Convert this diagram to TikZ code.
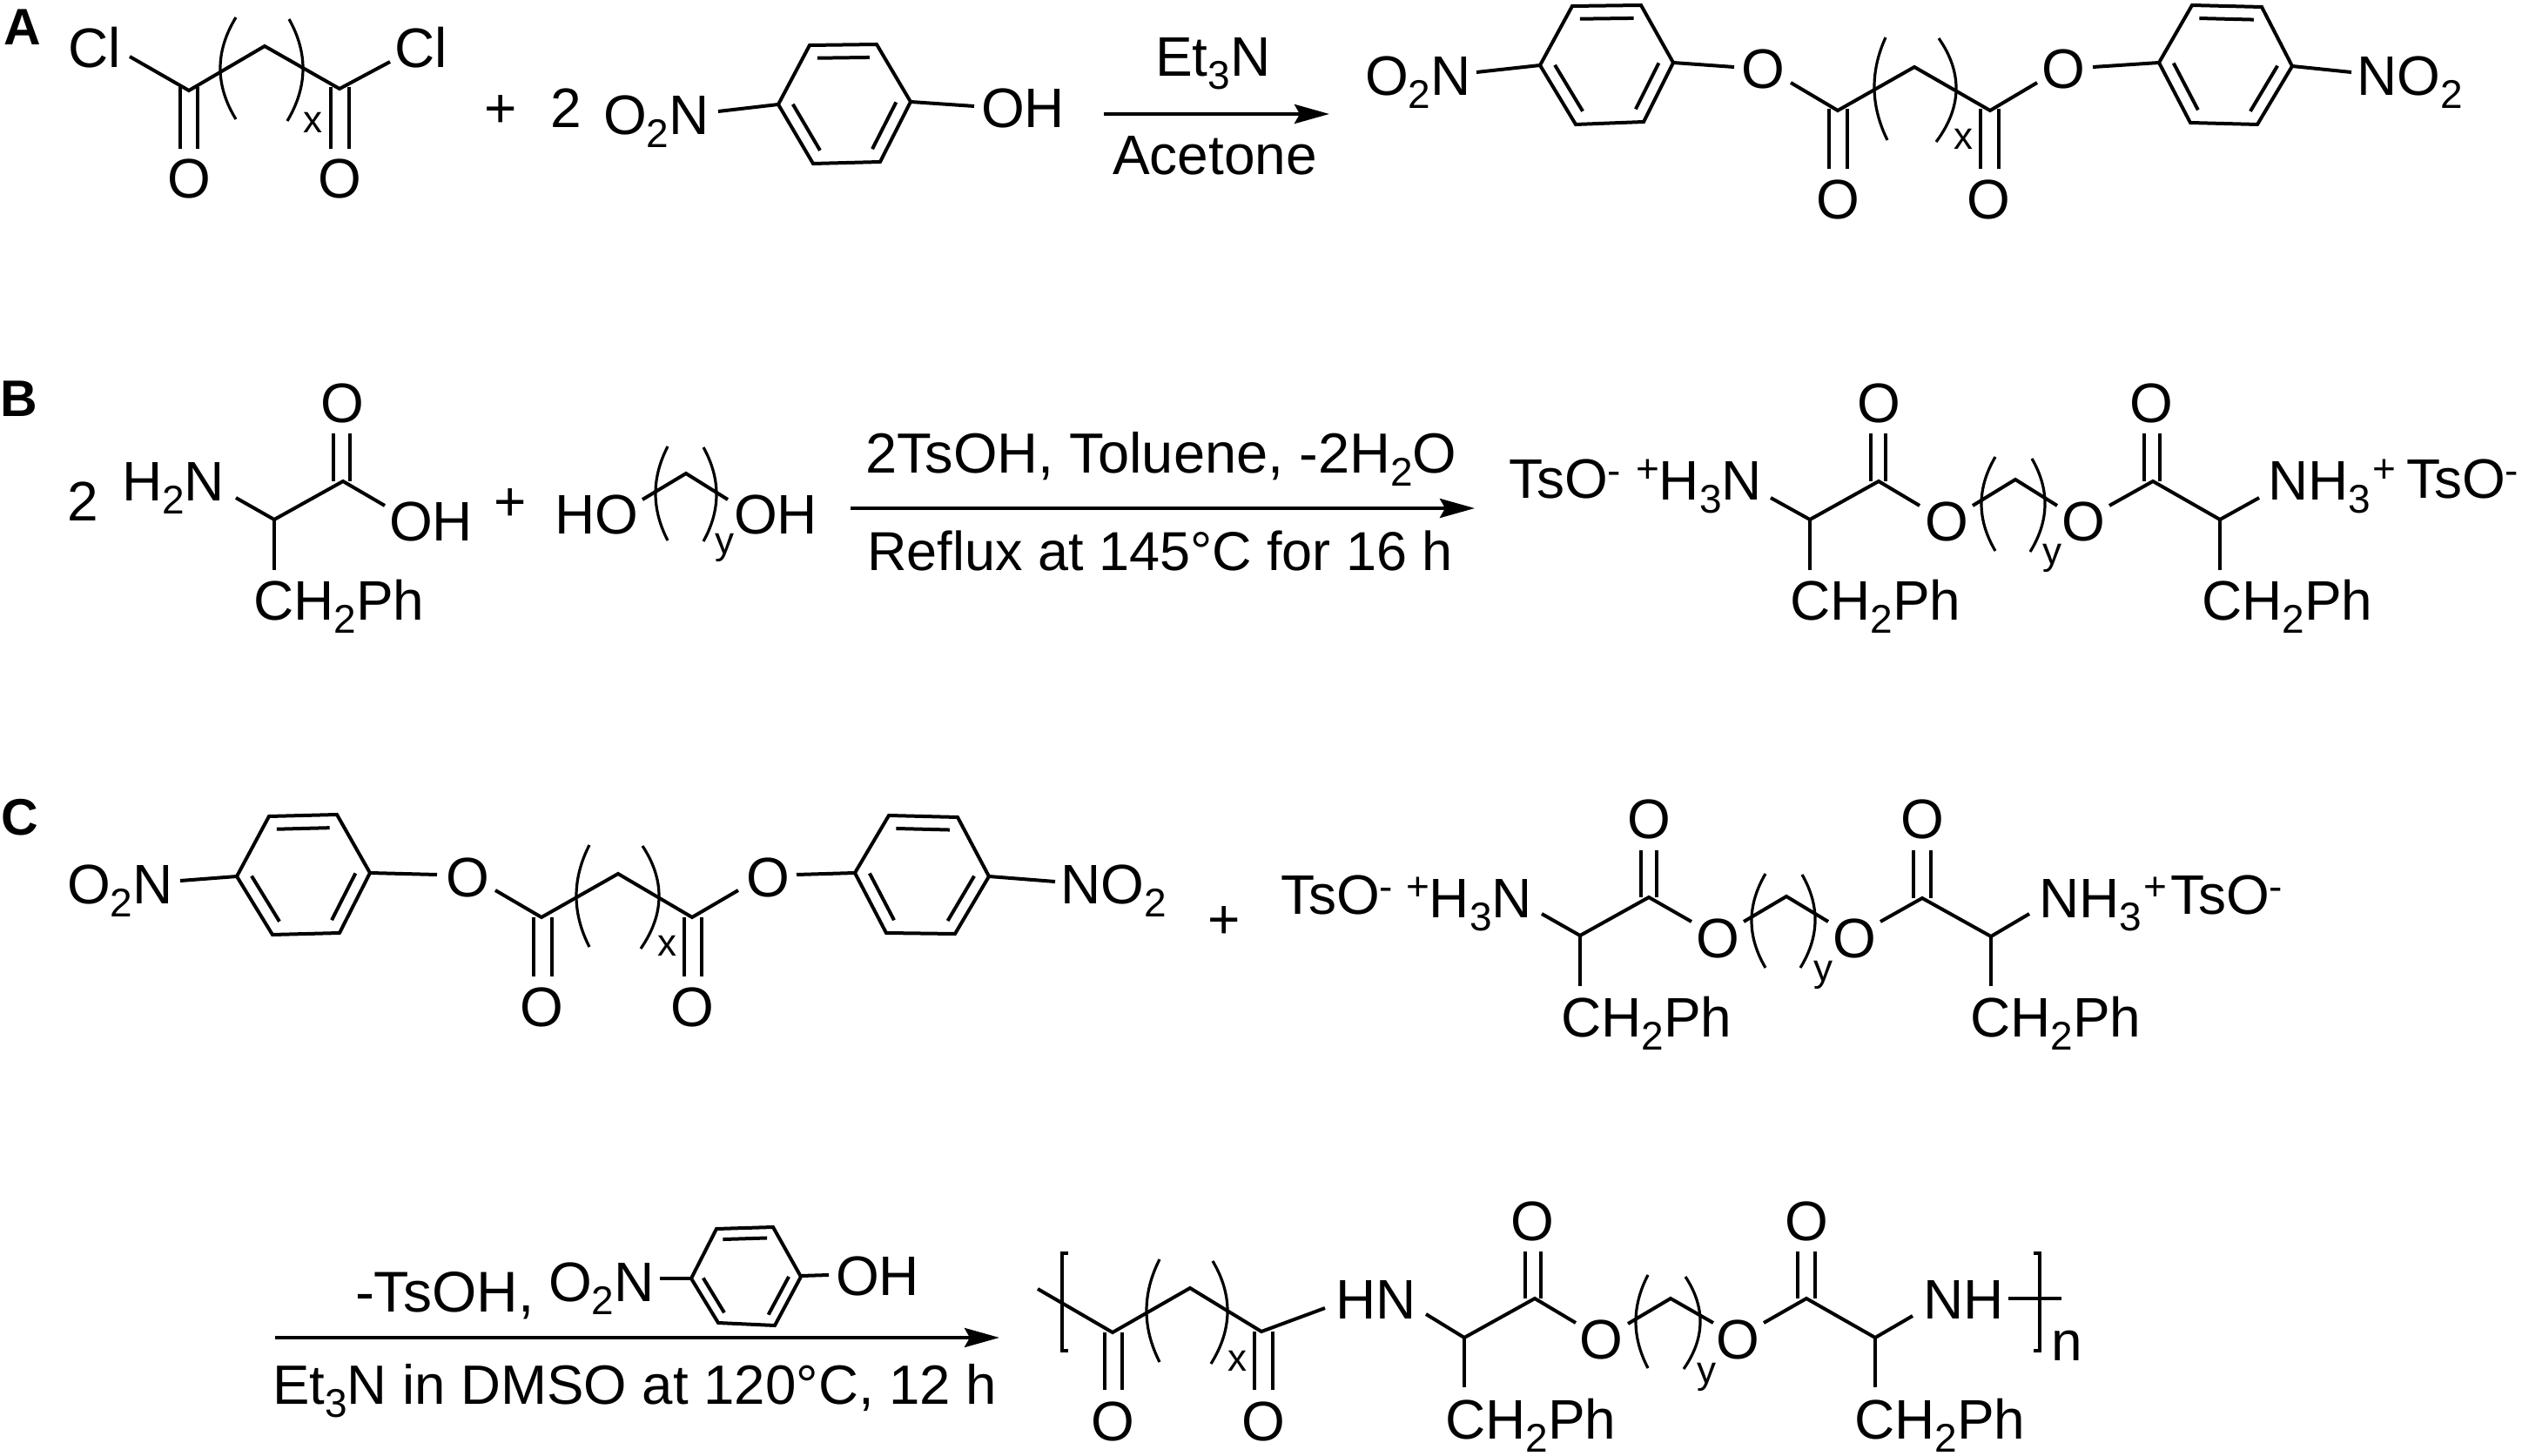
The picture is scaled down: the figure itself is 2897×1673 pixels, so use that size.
\documentclass[tikz,border=0pt]{standalone}
\usepackage{fontspec}
\setmainfont{Liberation Sans}
\usetikzlibrary{calc,arrows.meta}
\newcounter{lb}
\newcommand\dn[1]{\raisebox{-7.5pt}{\fontsize{23}{23}\selectfont #1}}
\newcommand\up[1]{\raisebox{10pt}{\fontsize{23}{23}\selectfont #1}}
\newcommand\upm[1]{\raisebox{8pt}{\fontsize{23}{23}\selectfont #1}}
% left-anchored main text
\newcommand\lab[2]{\stepcounter{lb}\node[lbl,anchor=base west] (t\thelb) at (#1) {#2};}
% left-anchored text at its own size
\newcommand\labf[3]{\stepcounter{lb}\node[lbl,anchor=base west,font=\fontsize{#1}{#1}\selectfont] (t\thelb) at (#2) {#3};}
% centred main text
\newcommand\labc[2]{\stepcounter{lb}\node[lbl,anchor=base] (t\thelb) at (#1) {#2};}
% small index (x, y)
\newcommand\idx[2]{\stepcounter{lb}\node[lbl,anchor=base west,font=\fontsize{22}{22}\selectfont] (t\thelb) at (#1) {#2};}
% panel letter
\newcommand\panel[2]{\stepcounter{lb}\node[lbl,anchor=base west,font=\fontsize{29.5}{30}\selectfont\bfseries] (t\thelb) at (#1) {#2};}
% bracket-curve: {ax,ay}{bx,by}{mx}, a parabola through the mid point
\def\parenx#1,#2,#3,#4,#5\relax{\draw[fine]
 (#1,#2) .. controls ({#1+2/3*(2*#5-(#1+#3)/2-#1)},{#2+2/3*((#2+#4)/2-#2)})
 and ({#3+2/3*(2*#5-(#1+#3)/2-#3)},{#4+2/3*((#2+#4)/2-#4)}) .. (#3,#4);}
\newcommand\paren[3]{\parenx#1,#2,#3\relax}
% C=O double bond: x1 x2 y1 y2
\newcommand\dbl[4]{\draw[fine] (#1,#3)--(#1,#4) (#2,#3)--(#2,#4);}
% benzene ring: L TL TR R BR BL
\newcommand\ring[6]{%
 \coordinate (ra) at (#1);\coordinate (rb) at (#2);\coordinate (rc) at (#3);
 \coordinate (rd) at (#4);\coordinate (re) at (#5);\coordinate (rf) at (#6);
 \coordinate (rz) at (barycentric cs:ra=1,rb=1,rc=1,rd=1,re=1,rf=1);
 \draw[bond] (ra)--(rb)--(rc)--(rd)--(re)--(rf)--cycle;
 \draw[bond] ($(rz)!.78!(rb)$)--($(rz)!.78!(rc)$)
             ($(rz)!.78!(ra)$)--($(rz)!.78!(rf)$)
             ($(rz)!.78!(rd)$)--($(rz)!.78!(re)$);}
\tikzset{
 lbl/.style={inner sep=0pt,outer sep=0pt,font=\fontsize{32}{32}\selectfont,text=black},
 bond/.style={line width=2pt,line join=miter,black},
 fine/.style={line width=1.6pt,black},
 rxn/.style={line width=2.1pt,black,-{Stealth[length=20pt,width=11pt,inset=3pt]}}
}
\begin{document}
\begin{tikzpicture}[x=0.5pt,y=-0.5pt]
\useasboundingbox (0,0) rectangle (2897,1673);
\fill[white] (0,0) rectangle (2897,1673);
%% ---------- A ----------
\panel{4,52}{A}
\lab{78,78}{Cl}\lab{453,78}{Cl}
\draw[bond] (149,65)--(217,104)--(304,53)--(390,102)--(448,71);
\dbl{207}{227}{100}{171}\dbl{380}{401}{100}{171}
\labc{217,228}{O}\labc{390,228}{O}
\paren{271,20}{271,137}{253}\paren{332,22}{330,139}{348}
\idx{348,153}{x}
\labc{575,147}{+}\lab{632,147}{2}
\lab{693,155}{O\dn{2}N}
\draw[bond] (825,128)--(894,120);
\ring{894,120}{930,52}{1007,51}{1046,117}{1011,186}{934,188}
\draw[bond] (1046,117)--(1119,122);
\lab{1127,147}{OH}
\coordinate (a1) at (1268,131);\coordinate (a2) at (1527,131);
\draw[rxn] (a1)--(a2);
\lab{1327,88}{Et\dn{3}N}
\lab{1278,201}{Acetone}
\lab{1568,110}{O\dn{2}N}
\draw[bond] (1696,83)--(1769,75);
\ring{1769,75}{1806,7}{1885,6}{1922,72}{1888,140}{1810,143}
\draw[bond] (1922,72)--(1992,77);
\labc{2025,102}{O}
\draw[bond] (2057,95)--(2111,127)--(2199,77)--(2286,127)--(2340,95);
\dbl{2101}{2122}{125}{194}\dbl{2275}{2296}{125}{194}
\labc{2111,252}{O}\labc{2284,252}{O}
\paren{2166,43}{2168,161}{2153}\paren{2227,44}{2224,163}{2247}
\idx{2244,172}{x}
\labc{2370,102}{O}
\draw[bond] (2404,77)--(2480,72);
\ring{2480,72}{2518,6}{2598,8}{2633,76}{2593,143}{2516,141}
\draw[bond] (2633,76)--(2701,83);
\lab{2707,110}{NO\dn{2}}
%% ---------- B ----------
\panel{1,479}{B}
\lab{77,599}{2}
\lab{140,576}{H\dn{2}N}
\draw[bond] (271,572)--(315,597)--(394,553)--(442,581);
\draw[fine] (315,597)--(315,655);
\lab{291,713}{CH\dn{2}Ph}
\dbl{383}{402}{553}{498}
\labc{393,486}{O}
\lab{447,622}{OH}
\labc{586,599}{+}
\lab{637,614}{HO}
\draw[bond] (738,574)--(788,544)--(836,574);
\paren{767,513}{767,621}{753}\paren{808,514}{808,622}{823}
\idx{821,637}{y}
\lab{843,614}{OH}
\coordinate (b1) at (977,584);\coordinate (b2) at (1694,584);
\draw[rxn] (b1)--(b2);
\labf{32.5}{994,544}{2TsOH, Toluene, -2H\dn{2}O}
\labf{31.5}{996,656}{Reflux at 145°C for 16 h}
\lab{1733,573}{TsO\upm{-}}
\lab{1879,575}{\up{+}H\dn{3}N}
\draw[bond] (2034,572)--(2079,597)--(2158,553)--(2205,581);
\draw[fine] (2079,597)--(2079,655);
\lab{2056,713}{CH\dn{2}Ph}
\dbl{2149}{2166}{553}{498}
\labc{2158,486}{O}
\labc{2236,622}{O}
\draw[bond] (2266,581)--(2315,551)--(2363,581);
\paren{2292,525}{2292,633}{2276}\paren{2334,527}{2332,634}{2349}
\idx{2346,649}{y}
\labc{2393,622}{O}
\draw[bond] (2423,581)--(2473,553)--(2550,597)--(2595,572);
\draw[fine] (2550,597)--(2550,655);
\dbl{2463}{2481}{553}{498}
\labc{2471,486}{O}
\lab{2529,713}{CH\dn{2}Ph}
\lab{2605,575}{NH\dn{3}}
\lab{2725,575}{\up{+}}
\lab{2764,573}{TsO\upm{-}}
%% ---------- C ----------
\panel{2,959}{C}
\lab{77,1038}{O\dn{2}N}
\draw[bond] (207,1012)--(272,1007);
\ring{272,1007}{309,938}{387,936}{425,1003}{390,1072}{313,1074}
\draw[bond] (425,1003)--(502,1005);
\labc{537,1030}{O}
\draw[bond] (569,1023)--(622,1054)--(710,1004)--(795,1054)--(848,1023);
\dbl{613}{634}{1054}{1122}\dbl{786}{806}{1054}{1122}
\labc{622,1179}{O}\labc{795,1179}{O}
\paren{677,971}{677,1088}{662}\paren{738,972}{736,1090}{757}
\idx{755,1098}{x}
\labc{882,1030}{O}
\draw[bond] (915,1005)--(982,1003);
\ring{982,1003}{1021,937}{1100,939}{1136,1007}{1097,1073}{1018,1072}
\draw[bond] (1136,1007)--(1212,1013);
\lab{1218,1038}{NO\dn{2}}
\labc{1406,1078}{+}
\lab{1471,1050}{TsO\upm{-}}
\lab{1615,1054}{\up{+}H\dn{3}N}
\draw[bond] (1771,1050)--(1815,1075)--(1894,1031)--(1943,1059);
\draw[fine] (1815,1075)--(1815,1133);
\lab{1793,1191}{CH\dn{2}Ph}
\dbl{1885}{1903}{1031}{977}
\labc{1894,963}{O}
\labc{1973,1100}{O}
\draw[bond] (2003,1059)--(2052,1030)--(2100,1059);
\paren{2028,1004}{2028,1112}{2012}\paren{2070,1005}{2068,1112}{2085}
\idx{2083,1127}{y}
\labc{2130,1100}{O}
\draw[bond] (2160,1059)--(2208,1032)--(2287,1076)--(2331,1050);
\draw[fine] (2287,1076)--(2287,1133);
\dbl{2198}{2218}{1032}{977}
\labc{2208,963}{O}
\lab{2263,1191}{CH\dn{2}Ph}
\lab{2342,1054}{NH\dn{3}}
\lab{2462,1054}{\up{+}}
\lab{2493,1050}{TsO\upm{-}}
%% ---------- polymerisation ----------
\labf{33}{408,1507}{-TsOH,}
\lab{630,1495}{O\dn{2}N}
\draw[bond] (758,1469)--(794,1469);
\ring{794,1469}{823,1412}{888,1410}{920,1467}{890,1523}{825,1520}
\draw[bond] (920,1466)--(952,1465);
\lab{960,1488}{OH}
\coordinate (c1) at (316,1537);\coordinate (c2) at (1148,1537);
\draw[rxn] (c1)--(c2);
\labf{31.8}{313,1613}{Et\dn{3}N in DMSO at 120°C, 12 h}
\draw[fine] (1227,1440)--(1220,1440)--(1220,1552)--(1227,1552);
\draw[bond] (1192,1481)--(1278,1531)--(1367,1480)--(1449,1530)--(1522,1503);
\dbl{1269}{1289}{1531}{1597}\dbl{1441}{1462}{1530}{1597}
\labc{1278,1655}{O}\labc{1451,1655}{O}
\paren{1332,1447}{1332,1565}{1317}\paren{1393,1449}{1391,1567}{1410}
\idx{1410,1575}{x}
\lab{1534,1515}{HN}
\draw[bond] (1638,1510)--(1682,1537)--(1763,1492)--(1810,1520);
\draw[fine] (1682,1537)--(1682,1594);
\lab{1660,1653}{CH\dn{2}Ph}
\dbl{1752}{1770}{1492}{1438}
\labc{1760,1425}{O}
\labc{1839,1561}{O}
\draw[bond] (1870,1521)--(1919,1492)--(1968,1520);
\paren{1893,1465}{1893,1572}{1879}\paren{1936,1467}{1934,1573}{1953}
\idx{1949,1589}{y}
\labc{1996,1561}{O}
\draw[bond] (2026,1520)--(2075,1492)--(2154,1537)--(2197,1512);
\draw[fine] (2154,1537)--(2154,1594);
\dbl{2065}{2085}{1492}{1438}
\labc{2075,1425}{O}
\lab{2130,1653}{CH\dn{2}Ph}
\lab{2209,1515}{NH}
\draw[bond] (2307,1492)--(2368,1492);
\draw[fine] (2336,1440)--(2343,1440)--(2343,1552)--(2336,1552);
\lab{2356,1563}{n}
\end{tikzpicture}
\end{document}
